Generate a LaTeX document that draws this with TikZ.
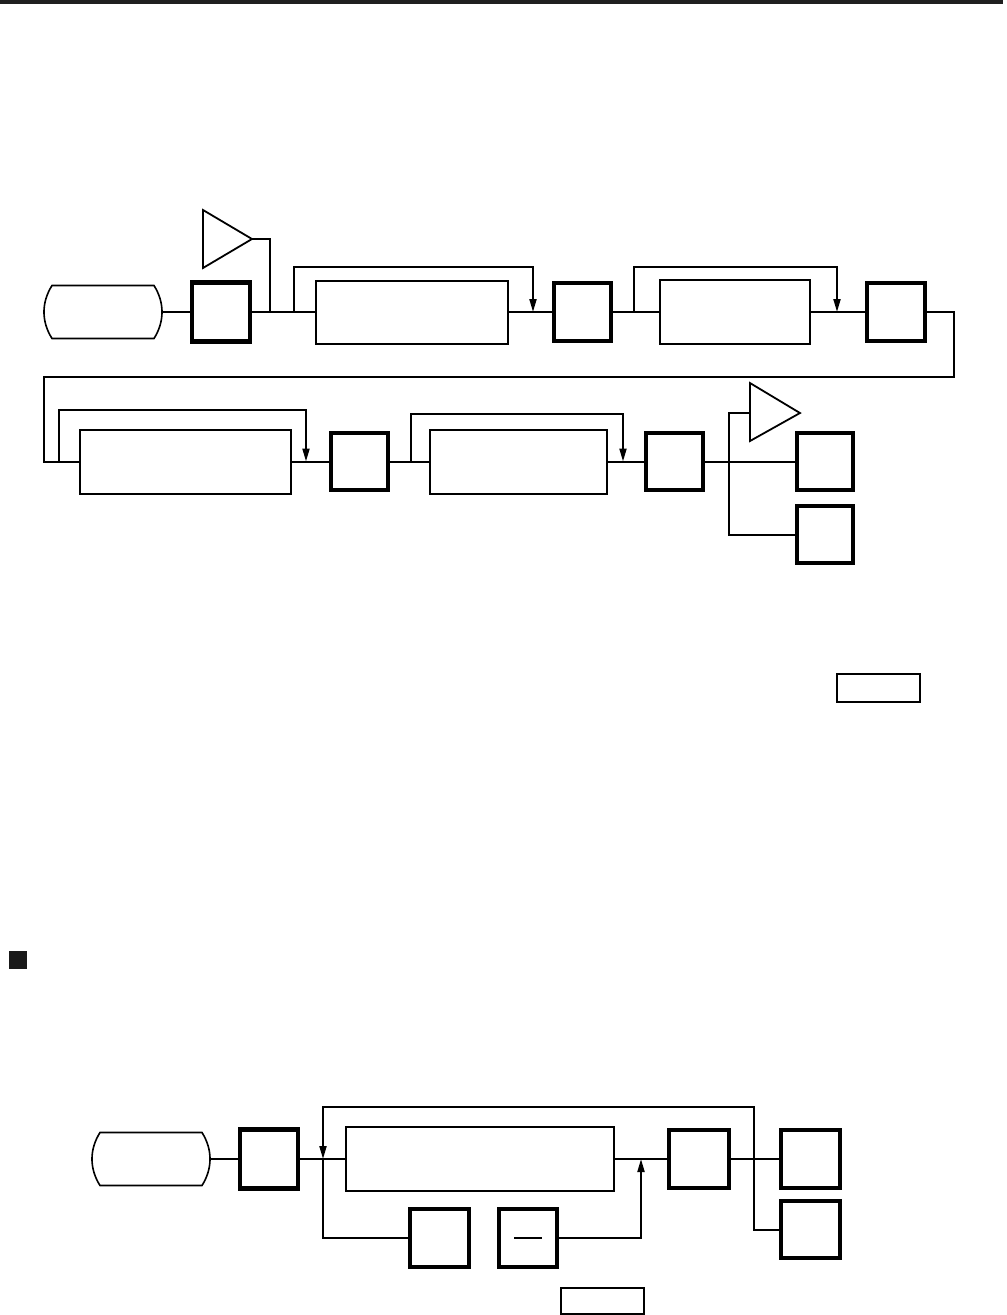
\documentclass[tikz,border=0pt]{standalone}
\usetikzlibrary{arrows.meta,calc}
\tikzset{
 conn/.style={line width=2pt},
 arr/.style={conn,-{Triangle[length=13pt,width=7pt]}},
 thickbox/.style={draw,line width=4.3pt,inner sep=0pt,outer sep=0pt},
 longbox/.style={draw,line width=2pt,inner sep=0pt,outer sep=0pt},
 labelbox/.style={draw,line width=1.3pt,inner sep=0pt,outer sep=0pt,minimum width=83pt},
 termnode/.style={inner sep=0pt,outer sep=0pt,minimum width=118pt,minimum height=53pt},
 termline/.style={line width=1.6pt},
 triline/.style={line width=1.8pt,line join=miter},
}
\newcommand{\mytermshape}[1]{%
 \draw[termline] ([xshift=8pt]#1.north west) -- ([xshift=-8pt]#1.north east)
  .. controls ([xshift=2.7pt,yshift=-17pt]#1.north east) and ([xshift=2.7pt,yshift=17pt]#1.south east) .. ([xshift=-8pt]#1.south east)
  -- ([xshift=8pt]#1.south west)
  .. controls ([xshift=-2.7pt,yshift=17pt]#1.south west) and ([xshift=-2.7pt,yshift=-17pt]#1.north west) .. cycle;}
\begin{document}
\begin{tikzpicture}[x=1pt,y=-1pt]
\useasboundingbox (0,0) rectangle (1007,1315);
% top rule
\fill[black!88] (0,0) rectangle (1003,4);

% ---------- row 1 ----------
\node[termnode] (t1) at (103,312) {};
\mytermshape{t1}
\node[thickbox,minimum width=58pt,minimum height=59pt] (b1) at (221,312) {};
\node[longbox,minimum width=192pt,minimum height=63pt] (box2) at (412,312) {};
\node[thickbox,minimum width=57pt,minimum height=58pt] (b3) at (582.5,312) {};
\node[longbox,minimum width=150pt,minimum height=64pt] (box4) at (735,312) {};
\node[thickbox,minimum width=58pt,minimum height=58pt] (b5) at (896,312) {};
\coordinate (tri1out) at (252,239);
\draw[triline] (203,210) -- (203,268) -- (tri1out) -- cycle;
\coordinate (j1a) at (270,312);
\coordinate (j1b) at (294,312);
\coordinate (j1c) at (533,312);
\coordinate (j2a) at (634,312);
\coordinate (j2b) at (837,312);
\coordinate (r1) at (954,377);

% ---------- row 2 ----------
\node[longbox,minimum width=211pt,minimum height=64pt] (box6) at (185.5,461.5) {};
\node[thickbox,minimum width=57pt,minimum height=57pt] (b7) at (359.5,461.5) {};
\node[longbox,minimum width=177pt,minimum height=64pt] (box8) at (518.5,461.5) {};
\node[thickbox,minimum width=57pt,minimum height=57pt] (b9) at (674.5,461.5) {};
\node[thickbox,minimum width=56pt,minimum height=57pt] (b10) at (825,461.5) {};
\node[thickbox,minimum width=56pt,minimum height=57pt] (b11) at (825,534.5) {};
\coordinate (tri2in) at (750,413);
\draw[triline] (750,383) -- (750,441) -- (800,413) -- cycle;
\coordinate (k0) at (44,461.5);
\coordinate (k1) at (59,461.5);
\coordinate (k2) at (306,461.5);
\coordinate (k3) at (411,461.5);
\coordinate (k4) at (623,461.5);
\coordinate (k5) at (729,461.5);

% label box 1
\node[labelbox,minimum height=28pt] (lab1) at (878.5,688) {};

% black square bullet
\fill[black!90] (9,951) rectangle (27,969);

% ---------- row 3 ----------
\node[termnode] (t2) at (151,1159) {};
\mytermshape{t2}
\node[thickbox,minimum width=58pt,minimum height=59pt] (b12) at (269,1159) {};
\node[longbox,minimum width=268pt,minimum height=64pt] (box13) at (480,1159) {};
\node[thickbox,minimum width=59pt,minimum height=58pt] (b14) at (439.5,1238) {};
\node[thickbox,minimum width=58pt,minimum height=58pt] (b15) at (528,1238) {};
\node[thickbox,minimum width=60pt,minimum height=58pt] (b16) at (699,1159) {};
\node[thickbox,minimum width=59pt,minimum height=58pt] (b17) at (810.5,1159) {};
\node[thickbox,minimum width=59pt,minimum height=57pt] (b18) at (810.5,1229.5) {};
\node[labelbox,minimum height=26pt] (lab2) at (602.5,1301) {};
\coordinate (m1) at (323,1159);
\coordinate (m2) at (641,1159);
\coordinate (m3) at (754,1107);

% ---------- connectors row 1 ----------
\draw[conn] (t1.east) -- (b1.west);
\draw[conn] (b1.east) -- (box2.west);
\draw[conn] (tri1out) -| (j1a);
\draw[arr] (j1b) -- (294,267) -- (533,267) -- (j1c);
\draw[conn] (box2.east) -- (b3.west);
\draw[conn] (b3.east) -- (box4.west);
\draw[arr] (j2a) -- (634,267) -- (837,267) -- (j2b);
\draw[conn] (box4.east) -- (b5.west);
\draw[conn] (b5.east) -| (r1) -| (k0) -- (box6.west);

% ---------- connectors row 2 ----------
\draw[arr] (k1) -- (59,410) -- (306,410) -- (k2);
\draw[conn] (box6.east) -- (b7.west);
\draw[conn] (b7.east) -- (box8.west);
\draw[arr] (k3) -- (411,414) -- (623,414) -- (k4);
\draw[conn] (box8.east) -- (b9.west);
\draw[conn] (b9.east) -- (b10.west);
\draw[conn] (k5) |- (tri2in);
\draw[conn] (k5) |- (b11.west);

% ---------- connectors row 3 ----------
\draw[conn] (t2.east) -- (b12.west);
\draw[conn] (b12.east) -- (box13.west);
\draw[arr] (b18.west) -| (m3) -| (m1);
\draw[conn] (m1) |- (b14.west);
\draw[arr] (b15.east) -| (m2);
\draw[conn] (box13.east) -- (b16.west);
\draw[conn] (b16.east) -- (b17.west);
\draw[conn] ([xshift=-14pt]b15.center) -- ([xshift=14pt]b15.center);
\end{tikzpicture}
\end{document}
